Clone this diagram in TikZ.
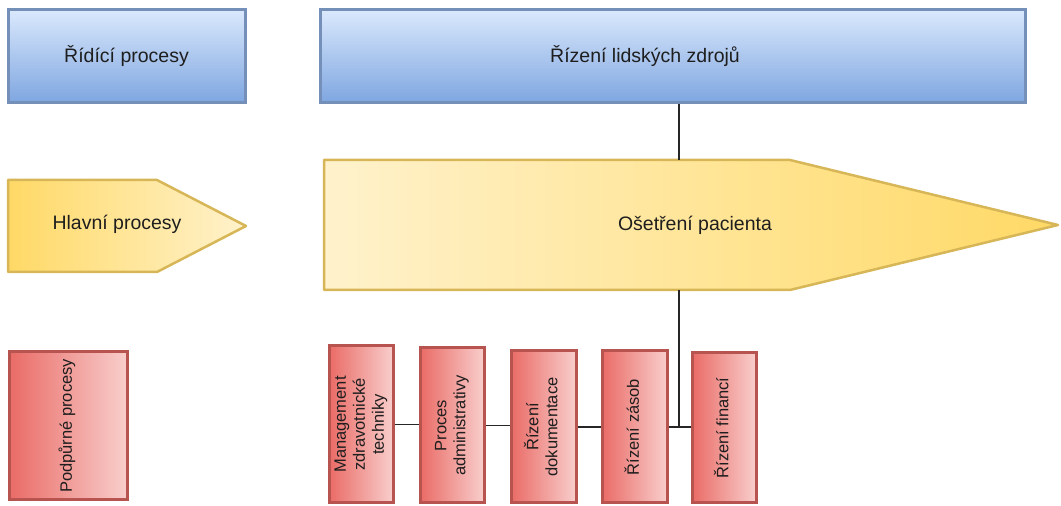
\documentclass[tikz,border=0pt]{standalone}
\usepackage{fontspec}
\setmainfont{Liberation Sans}
\usepackage{graphicx}
\definecolor{bluetop}{HTML}{DAE8FC}
\definecolor{bluebot}{HTML}{7EA6E0}
\definecolor{blueline}{HTML}{7490B8}
\definecolor{yelLight}{HTML}{FFF2CC}
\definecolor{yelDark}{HTML}{FFD966}
\definecolor{yelLine}{HTML}{D6B656}
\definecolor{redDark}{HTML}{EA6B66}
\definecolor{redLight}{HTML}{F8CECC}
\definecolor{redLine}{HTML}{B85450}
\definecolor{txt}{HTML}{1E1E1E}
\newcommand{\bigfont}{\fontsize{19.5}{23}\selectfont}
\newcommand{\smallfont}{\fontsize{16.5}{19}\selectfont}
\newcommand{\vlabel}[1]{\rotatebox{90}{\begin{tabular}{@{}c@{}}#1\end{tabular}}}
\tikzset{
  bluebox/.style={draw=blueline, line width=3pt, top color=bluetop, bottom color=bluebot,
    inner sep=0pt, text=txt, font=\bigfont},
  yelarrowR/.style={draw=yelLine, line width=2.5pt, line join=round, left color=yelLight, right color=yelDark},
  yelarrowL/.style={draw=yelLine, line width=2.5pt, line join=round, left color=yelDark, right color=yelLight},
  lbl/.style={inner sep=0pt, text=txt, font=\bigfont},
  redbox/.style={draw=redLine, line width=3pt, left color=redDark, right color=redLight,
    inner sep=0pt, text=txt, font=\smallfont},
  conn/.style={draw=black!85, line width=1.5pt}
}
\begin{document}
\begin{tikzpicture}[x=1pt,y=1pt]
\useasboundingbox (0,0) rectangle (1061,506);
% top row
\node[bluebox, minimum width=237pt, minimum height=93pt] (ctrl) at (126.5,449.5) {Řídící procesy};
\node[bluebox, minimum width=705pt, minimum height=93pt] (hr) at (672.5,449.5) {};
\node[lbl] (hrlbl) at (645,449.5) {Řízení lidských zdrojů};
% middle row
\path[yelarrowL] (8,326) -- (157,326) -- (246,280) -- (157,234) -- (8,234) -- cycle;
\node[lbl] (mainlbl) at (117,282) {Hlavní procesy};
\path[yelarrowR] (324,346) -- (790,346) -- (1058,281) -- (790,216) -- (324,216) -- cycle;
\node[lbl] (care) at (695,281) {Ošetření pacienta};
% bottom row
\node[redbox, minimum width=118pt, minimum height=148pt] (supp) at (68,80) {\vlabel{Podpůrné procesy}};
\node[redbox, minimum width=64pt, minimum height=157pt] (m1) at (361,81.5) {\vlabel{Management\\zdravotnické\\techniky}};
\node[redbox, minimum width=64pt, minimum height=155pt] (m2) at (452,80.5) {\vlabel{Proces\\administrativy}};
\node[redbox, minimum width=65pt, minimum height=152pt] (m3) at (543.5,79) {\vlabel{Řízení\\dokumentace}};
\node[redbox, minimum width=65pt, minimum height=152pt] (m4) at (634.5,79) {\vlabel{Řízení zásob}};
\node[redbox, minimum width=64pt, minimum height=150pt] (m5) at (724,78) {\vlabel{Řízení financí}};
% connectors
\coordinate (jt) at (679,346);
\coordinate (jb) at (679,216);
\draw[conn] (hr.south -| jt) -- (jt);
\draw[conn] (jb) -- (jb |- m5.west);
\draw[conn] (m1.east) -- (m1.east -| m2.west);
\draw[conn] (m2.east) -- (m2.east -| m3.west);
\draw[conn] (m3.east) -- (m3.east -| m4.west);
\draw[conn] (m4.east) -- (m4.east -| m5.west);
\end{tikzpicture}
\end{document}
